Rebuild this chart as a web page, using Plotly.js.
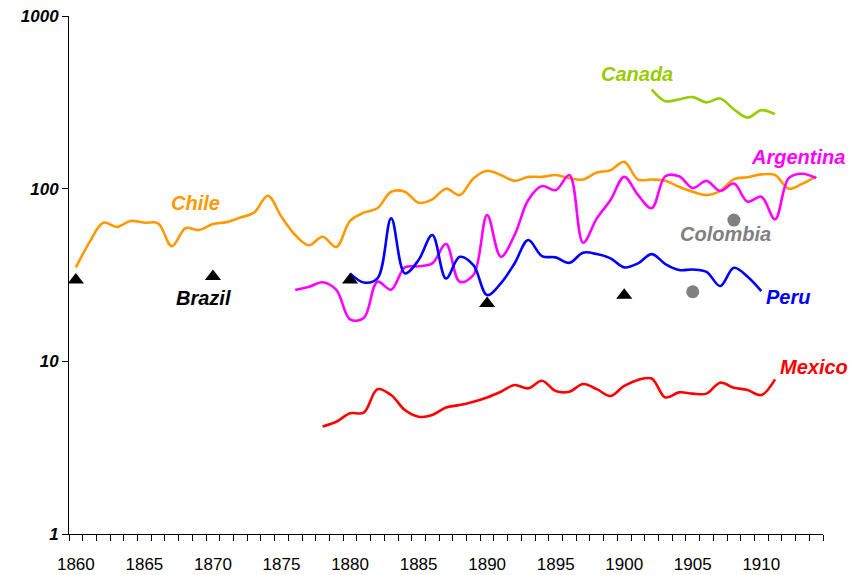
<!DOCTYPE html>
<html>
<head>
<meta charset="utf-8">
<script src="https://cdn.plot.ly/plotly-3.0.1.min.js"></script>
<style>html,body{margin:0;padding:0;background:#fff;}#chart{width:852px;height:575px;}</style>
</head>
<body>
<div id="chart"></div>
<script>
const years = [1860,1861,1862,1863,1864,1865,1866,1867,1868,1869,
  1870,1871,1872,1873,1874,1875,1876,1877,1878,1879,
  1880,1881,1882,1883,1884,1885,1886,1887,1888,1889,
  1890,1891,1892,1893,1894,1895,1896,1897,1898,1899,
  1900,1901,1902,1903,1904,1905,1906,1907,1908,1909,
  1910,1911,1912,1913,1914];

const chile = [35,49,63.5,60,65,63.5,63,46.5,59,57.6,
  62.4,64,68,72.6,91,68.7,53.9,47,52.7,46,
  65,72.6,77,96,96,82.8,86.7,100,91.8,114.7,
  127,120,111,117,117,120,115,113,124,128,
  143,113,113,111,102.6,96,91.8,97,113.6,116.5,
  121,120,100,107,118];
const chileStart = 1860;

const argentina = [25.9,27,28.7,25.9,
  17.5,17.8,28.9,26,35,35.5,36.9,47.8,28.9,31.6,
  70.3,40.3,53.9,85.9,103.5,98,120,48.6,67.3,86,
  117,92,77,118,118,101,111,97,107,84,
  89.8,66.4,115,122,115];
const argentinaStart = 1876;

const peru = [32.3,28.6,30.2,67.3,32.3,38.6,53.9,30.2,40.3,36.1,
  24.2,28.3,36.9,50.4,40.7,40,37.2,42.6,41.8,39.5,
  35,36.9,41.8,36.6,33.8,34,33,27.3,34.8,30.9,
  25.5];
const peruStart = 1880;

const mexico = [4.2,4.47,
  5.0,5.05,6.9,6.38,5.22,4.78,4.89,5.41,5.58,5.84,
  6.18,6.67,7.29,6.98,7.72,6.73,6.67,7.39,6.9,6.3,
  7.2,7.8,7.95,6.18,6.61,6.5,6.5,7.52,7.03,6.82,
  6.38,7.87];
const mexicoStart = 1878;

const canada = [376,321,329,339,316,333,288,258,285,270];
const canadaStart = 1902;

const brazilYears = [1860,1870,1880,1890,1900];
const brazil = [29.6,31,29.6,21.6,24.1];

const colombiaYears = [1905,1908];
const colombia = [25.3,65.8];

const yTickVals = [1,10,100,1000];
const yTickText = ['1','10','100','1000'];
const xTickVals = [1860,1865,1870,1875,1880,1885,1890,1895,1900,1905,1910];

function xs(start, arr){ const i = years.indexOf(start); return years.slice(i, i + arr.length); }

const lineStyle = (c) => ({color: c, width: 2.6, shape: 'spline', smoothing: 1});

const traces = [
  {x: xs(chileStart, chile), y: chile, mode: 'lines', line: lineStyle('#FF9900'), name: 'Chile'},
  {x: xs(argentinaStart, argentina), y: argentina, mode: 'lines', line: lineStyle('#FF00FF'), name: 'Argentina'},
  {x: xs(peruStart, peru), y: peru, mode: 'lines', line: lineStyle('#0000FF'), name: 'Peru'},
  {x: xs(mexicoStart, mexico), y: mexico, mode: 'lines', line: lineStyle('#FF0000'), name: 'Mexico'},
  {x: xs(canadaStart, canada), y: canada, mode: 'lines', line: lineStyle('#99CC00'), name: 'Canada'},
  {x: brazilYears, y: brazil, mode: 'markers', marker: {symbol: 'triangle-up', size: 14, color: '#000000'}, name: 'Brazil'},
  {x: colombiaYears, y: colombia, mode: 'markers', marker: {symbol: 'circle', size: 13, color: '#808080'}, name: 'Colombia'}
];

const labFont = (c) => ({family: 'Liberation Sans, Arial, sans-serif', size: 20, color: c, weight: 'bold', style: 'italic'});
function lab(text, px, py, c){
  return {text: text, xref: 'paper', yref: 'paper', x: (px - 69) / 754, y: (534 - py) / 518,
    xanchor: 'center', yanchor: 'middle', showarrow: false, font: labFont(c)};
}

const layout = {
  width: 852, height: 575,
  margin: {l: 69, r: 29, t: 16, b: 41},
  paper_bgcolor: '#ffffff', plot_bgcolor: '#ffffff',
  showlegend: false,
  xaxis: {
    range: [1859.5, 1914.5], showgrid: false, zeroline: false,
    showline: true, linecolor: '#000000', linewidth: 1,
    tickmode: 'array', tickvals: xTickVals, ticktext: xTickVals.map(String),
    ticks: '', ticklen: 0, ticklabelstandoff: 15,
    tickfont: {family: 'Liberation Sans, Arial, sans-serif', size: 17, color: '#000000'},
    minor: {tickmode: 'linear', tick0: 1859.5, dtick: 1, ticks: 'outside', ticklen: 6, tickcolor: '#000000', tickwidth: 1, showgrid: false}
  },
  yaxis: {
    type: 'log', range: [0, 3], showgrid: false, zeroline: false,
    showline: true, linecolor: '#000000', linewidth: 1,
    tickmode: 'array', tickvals: yTickVals, ticktext: yTickText,
    ticks: 'outside', ticklen: 6, tickcolor: '#000000', tickwidth: 1,
    tickfont: {family: 'Liberation Sans, Arial, sans-serif', size: 17, color: '#000000', weight: 'bold', style: 'italic'}
  },
  annotations: [
    lab('Chile', 195, 203, '#FF9900'),
    lab('Brazil', 203.5, 298, '#000000'),
    lab('Canada', 636.7, 74, '#99CC00'),
    lab('Argentina', 798, 157, '#FF00FF'),
    lab('Colombia', 725.5, 234, '#808080'),
    lab('Peru', 788, 297, '#0000FF'),
    lab('Mexico', 814, 367, '#FF0000')
  ]
};

Plotly.newPlot('chart', traces, layout, {staticPlot: true, displayModeBar: false});
</script>
</body>
</html>
